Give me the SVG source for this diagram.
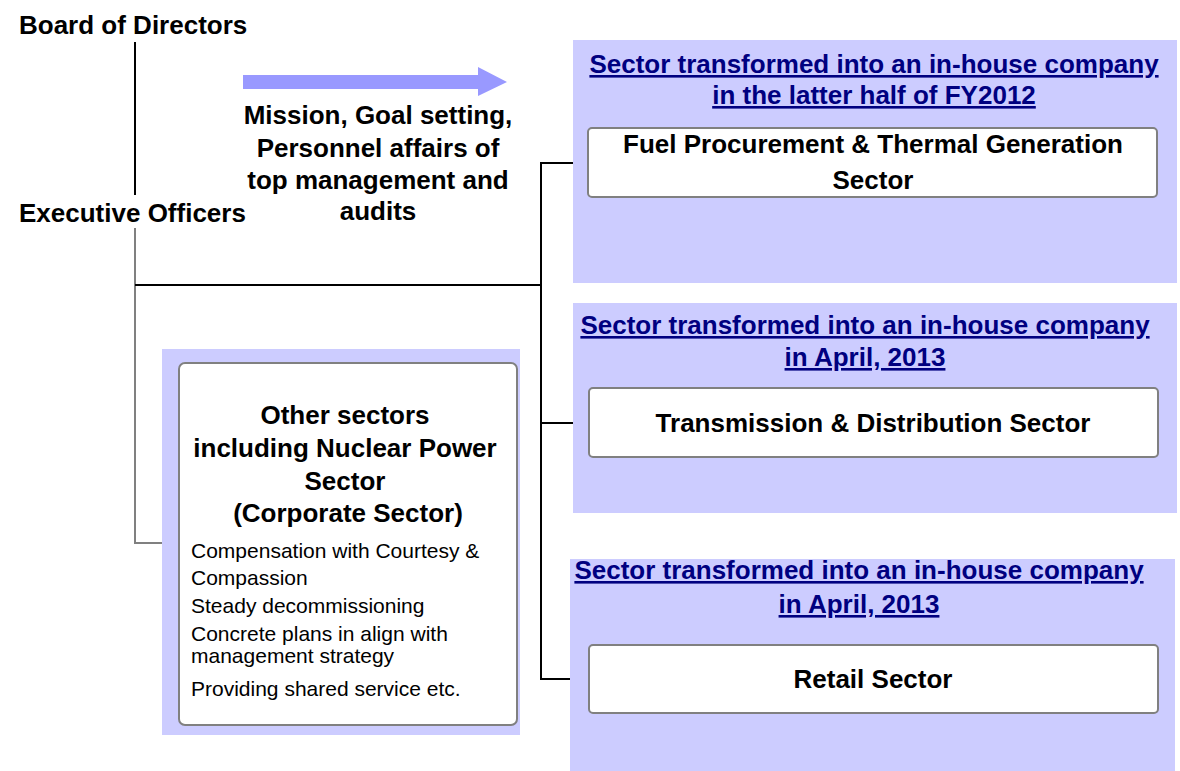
<svg xmlns="http://www.w3.org/2000/svg" width="1180" height="771" viewBox="0 0 1180 771">
<defs>
<style>
.t{font-family:"Liberation Sans",Arial,sans-serif;font-weight:bold;font-size:26px;fill:#000}
.c{text-anchor:middle}
.h{font-family:"Liberation Sans",Arial,sans-serif;font-weight:bold;font-size:26px;fill:#000080;text-anchor:middle;text-decoration:underline}
.s{font-family:"Liberation Sans",Arial,sans-serif;font-size:21px;fill:#000}
.panel{fill:#ccccff}
.box{fill:#fff;stroke:#808080;stroke-width:2}
.k{stroke:#000;stroke-width:2;fill:none}
.g{stroke:#808080;stroke-width:2;fill:none}
</style>
</defs>
<rect width="1180" height="771" fill="#fff"/>

<g id="connectors">
<line class="k" x1="135" y1="42" x2="135" y2="195"/>
<polyline class="g" points="135,228 135,543 179,543"/>
<line class="k" x1="135" y1="285" x2="541" y2="285"/>
<polyline class="k" points="588,163 541,163 541,679 589,679"/>
<line class="k" x1="541" y1="423" x2="589" y2="423"/>
</g>

<g id="board">
<text class="t" x="19" y="34">Board of Directors</text>
</g>
<g id="executive">
<text class="t" x="19" y="222">Executive Officers</text>
</g>

<g id="mission">
<polygon points="243,75 478,75 478,67 507,82 478,96 478,89 243,89" fill="#9999ff"/>
<text class="t c" x="378" y="124">Mission, Goal setting,</text>
<text class="t c" x="378" y="157">Personnel affairs of</text>
<text class="t c" x="378" y="189">top management and</text>
<text class="t c" x="378" y="220">audits</text>
</g>

<g id="fuel-sector">
<rect class="panel" x="573" y="40" width="604" height="243"/>
<text class="h" x="874" y="73">Sector transformed into an in-house company</text>
<text class="h" x="874" y="104">in the latter half of FY2012</text>
<rect class="box" x="588" y="128" width="569" height="69" rx="4"/>
<text class="t c" x="873" y="153">Fuel Procurement &amp; Thermal Generation</text>
<text class="t c" x="873" y="189">Sector</text>
</g>

<g id="transmission-sector">
<rect class="panel" x="573" y="303" width="604" height="210"/>
<text class="h" x="865" y="334">Sector transformed into an in-house company</text>
<text class="h" x="865" y="366">in April, 2013</text>
<rect class="box" x="589" y="388" width="569" height="69" rx="4"/>
<text class="t c" x="873" y="432">Transmission &amp; Distribution Sector</text>
</g>

<g id="retail-sector">
<rect class="panel" x="570" y="559" width="605" height="212"/>
<text class="h" x="859" y="579">Sector transformed into an in-house company</text>
<text class="h" x="859" y="613">in April, 2013</text>
<rect class="box" x="589" y="645" width="569" height="68" rx="4"/>
<text class="t c" x="873" y="688">Retail Sector</text>
</g>

<g id="corporate-sector">
<rect class="panel" x="162" y="349" width="358" height="386"/>
<rect class="box" x="179" y="363" width="338" height="362" rx="6"/>
<text class="t c" x="345" y="424">Other sectors</text>
<text class="t c" x="345" y="457">including Nuclear Power</text>
<text class="t c" x="345" y="490">Sector</text>
<text class="t c" x="348" y="522">(Corporate Sector)</text>
<text class="s" x="191" y="558">Compensation with Courtesy &amp;</text>
<text class="s" x="191" y="585">Compassion</text>
<text class="s" x="191" y="613">Steady decommissioning</text>
<text class="s" x="191" y="641">Concrete plans in align with</text>
<text class="s" x="191" y="663">management strategy</text>
<text class="s" x="191" y="696">Providing shared service etc.</text>
</g>
</svg>
